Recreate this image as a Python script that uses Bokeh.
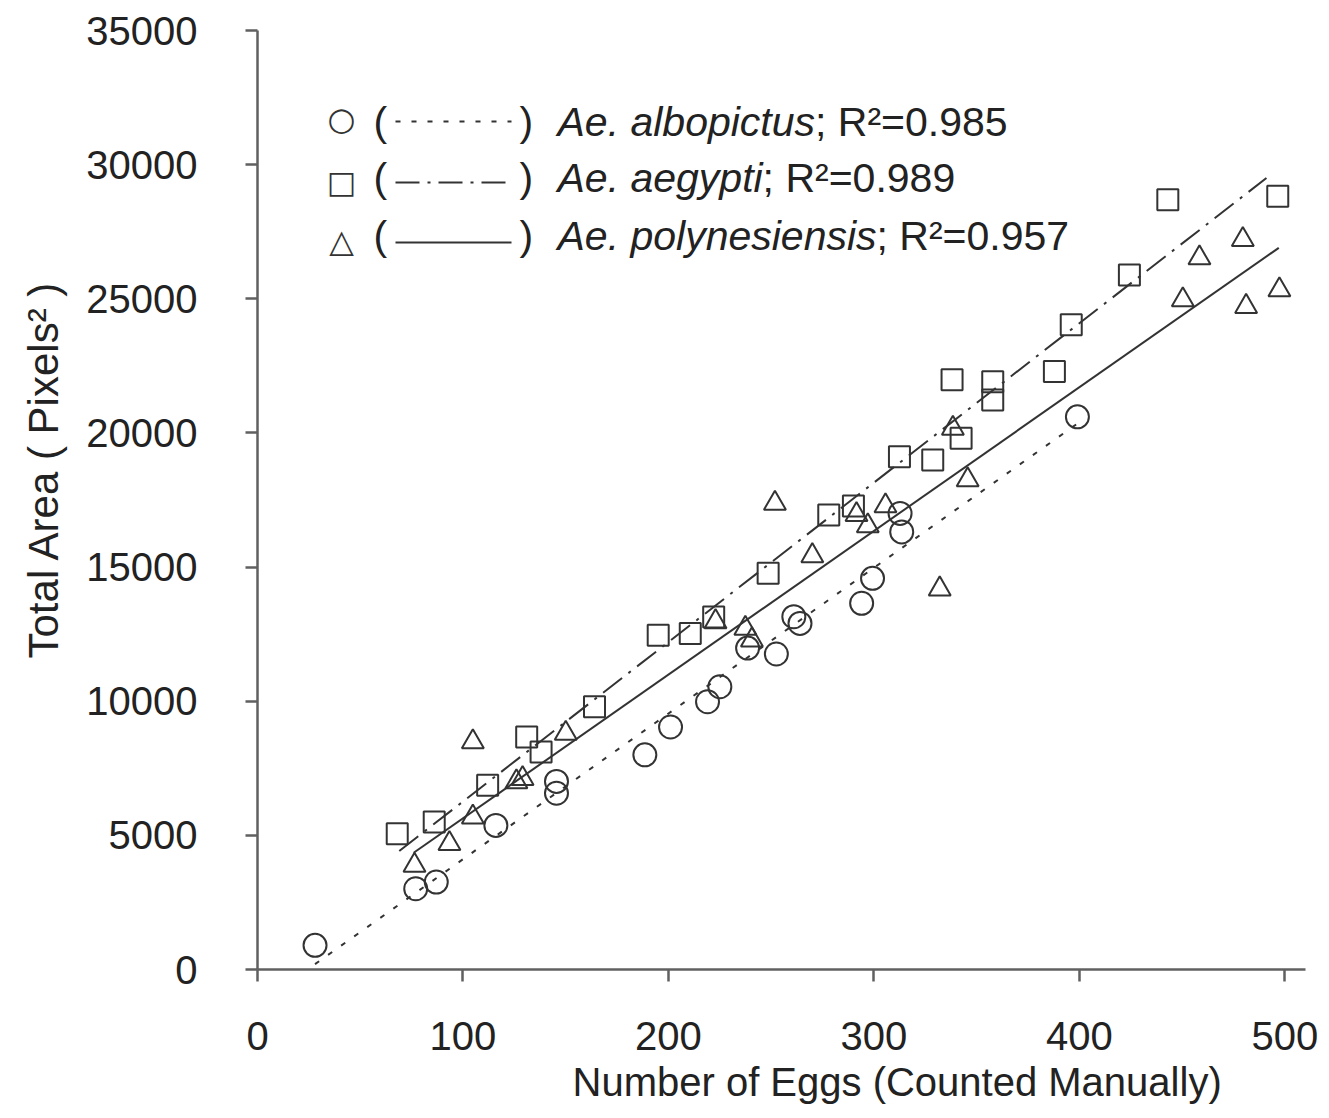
from bokeh.plotting import figure
from bokeh.models import FixedTicker, Label, Arrow, Title
from bokeh.embed import file_html
from bokeh.resources import INLINE

# ---- data ----
albo_x = [28, 77, 87, 116, 145.5, 145.5, 188.5, 201, 219, 225, 238.5, 252.5, 261, 264, 294, 299.3, 312.7, 313.5, 399]
albo_y = [900, 3010, 3260, 5370, 6570, 7010, 8000, 9040, 9980, 10540, 11980, 11760, 13150, 12900, 13650, 14580, 17000, 16310, 20600]

aeg_x = [68, 86, 112, 131, 138, 164, 195, 210.6, 222, 248.5, 278, 290, 312.4, 328.6, 338, 342.4, 357.8, 357.8, 387.8, 396, 424.3, 443, 496.5]
aeg_y = [5060, 5500, 6870, 8670, 8110, 9790, 12460, 12525, 13140, 14770, 16940, 17280, 19110, 18990, 21980, 19800, 21910, 21230, 22290, 24030, 25890, 28690, 28820]

poly_x = [76.4, 93.4, 104.8, 104.8, 126, 129, 150, 222.9, 237.4, 240.6, 251.8, 270, 291.5, 297, 305.6, 332, 338.4, 345.6, 450.3, 458.4, 479.5, 481.1, 497.3]
poly_y = [3880, 4690, 5680, 8480, 6990, 7115, 8800, 12960, 12710, 12280, 17375, 15420, 16950, 16530, 17280, 14180, 20170, 18250, 24960, 26520, 27200, 24710, 25330]

# regression lines (end points)
albo_fit_x = [28, 399]
albo_fit_y = [200, 20350]
aeg_fit_x = [69, 491]
aeg_fit_y = [4420, 29500]
poly_fit_x = [76, 497]
poly_fit_y = [4350, 26900]

x_ticks = [0, 100, 200, 300, 400, 500]
y_ticks = [0, 5000, 10000, 15000, 20000, 25000, 30000, 35000]

legend_names = ["Ae. albopictus", "Ae. aegypti", "Ae. polynesiensis"]
legend_r2 = ["; R\u00b2=0.985", "; R\u00b2=0.989", "; R\u00b2=0.957"]
legend_symbols = ["\u25cb", "\u25a1", "\u25b3"]
legend_dashes = ["5 11", "24 8 3 8", "solid"]

x_label = "Number of Eggs (Counted Manually)"
y_label = "Total Area ( Pixels\u00b2 )"

FONT = "Liberation Sans"
INK = "#222222"
MARK = "#333333"

p = figure(width=1320, height=1112, x_range=(0, 510), y_range=(0, 35000),
           output_backend="svg", toolbar_location=None,
           min_border_left=257, min_border_top=30, min_border_right=15, min_border_bottom=143)
p.outline_line_color = None
p.xgrid.visible = False
p.ygrid.visible = False
p.background_fill_color = "white"
p.border_fill_color = "white"

for ax in (p.xaxis[0], p.yaxis[0]):
    ax.axis_line_color = "#606060"
    ax.axis_line_width = 2.5
    ax.major_tick_line_color = "#606060"
    ax.major_tick_line_width = 2.5
    ax.major_tick_in = 0
    ax.major_tick_out = 12
    ax.minor_tick_line_color = None
    ax.major_label_text_font = FONT
    ax.major_label_text_font_size = "40px"
    ax.major_label_text_color = INK

p.xaxis.ticker = FixedTicker(ticks=x_ticks)
p.yaxis.ticker = FixedTicker(ticks=y_ticks)
p.xaxis.major_label_standoff = 40
p.yaxis.major_label_standoff = 48

# regression lines
p.line(albo_fit_x, albo_fit_y, line_color=MARK, line_width=2, line_dash="5 11")
p.line(aeg_fit_x, aeg_fit_y, line_color=MARK, line_width=2, line_dash="24 8 3 8")
p.line(poly_fit_x, poly_fit_y, line_color=MARK, line_width=2)

# scatter points
p.scatter(albo_x, albo_y, marker="circle", size=23, fill_alpha=0, line_color=MARK, line_width=2)
p.scatter(aeg_x, aeg_y, marker="square", size=21, fill_alpha=0, line_color=MARK, line_width=2)
p.scatter(poly_x, poly_y, marker="triangle", size=22, fill_alpha=0, line_color=MARK, line_width=2)

# axis titles
p.add_layout(Title(text=x_label, align="left", offset=315, standoff=10,
                   text_font=FONT, text_font_size="40px", text_font_style="normal",
                   text_color=INK), "below")
p.add_layout(Title(text=y_label, align="left", offset=311, standoff=34,
                   text_font=FONT, text_font_size="42px", text_font_style="normal",
                   text_color=INK), "left")

# legend (text block)
ARIAL_W = {'A': 667, 'e': 556, '.': 278, ' ': 278, 'a': 556, 'l': 222, 'b': 556, 'o': 556, 'p': 556,
           'i': 222, 'c': 500, 't': 278, 'u': 556, 's': 500, 'g': 556, 'y': 500, 'n': 556}
LSIZE = 41
row_base = [848, 792, 734]
row_mid = [851, 788, 729]
line_mid = [848, 787, 727]
sym_size = [32, 31, 32]
for i in range(3):
    p.add_layout(Label(x=84, y=row_mid[i], x_units="screen", y_units="screen", text=legend_symbols[i],
                       text_font="DejaVu Sans", text_font_size=f"{sym_size[i]}px", text_color=MARK,
                       text_align="center", text_baseline="middle"))
    p.add_layout(Label(x=116, y=row_base[i], x_units="screen", y_units="screen", text="(",
                       text_font=FONT, text_font_size=f"{LSIZE}px", text_color=INK,
                       text_align="left", text_baseline="alphabetic"))
    p.add_layout(Label(x=262, y=row_base[i], x_units="screen", y_units="screen", text=")",
                       text_font=FONT, text_font_size=f"{LSIZE}px", text_color=INK,
                       text_align="left", text_baseline="alphabetic"))
    p.add_layout(Arrow(start=None, end=None, x_start=138, y_start=line_mid[i], x_end=254, y_end=line_mid[i],
                       start_units="screen", end_units="screen", line_color=MARK, line_width=2,
                       line_dash=legend_dashes[i]))
    p.add_layout(Label(x=300, y=row_base[i], x_units="screen", y_units="screen", text=legend_names[i],
                       text_font=FONT, text_font_size=f"{LSIZE}px", text_font_style="italic",
                       text_color=INK, text_align="left", text_baseline="alphabetic"))
    w = sum(ARIAL_W.get(c, 556) for c in legend_names[i]) * LSIZE / 1000.0
    p.add_layout(Label(x=300 + w, y=row_base[i], x_units="screen", y_units="screen", text=legend_r2[i],
                       text_font=FONT, text_font_size=f"{LSIZE}px",
                       text_color=INK, text_align="left", text_baseline="alphabetic"))

open("out.html", "w").write(file_html(p, INLINE))
